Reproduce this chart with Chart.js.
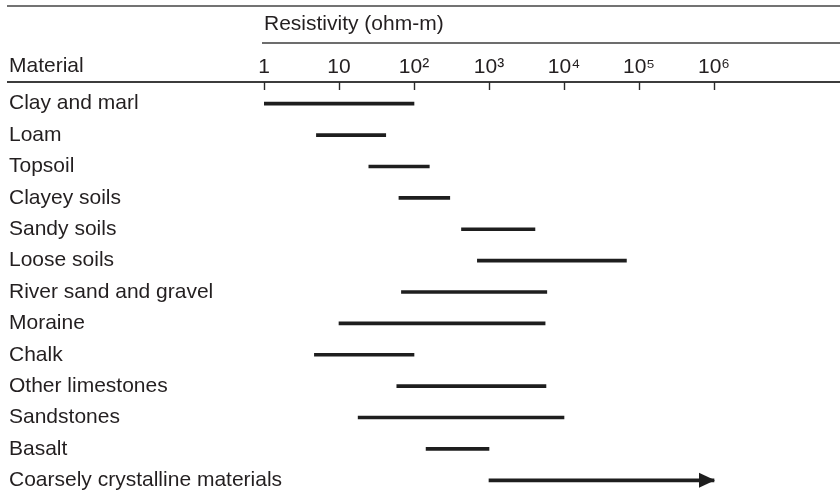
<!DOCTYPE html>
<html>
<head>
<meta charset="utf-8">
<script src="https://cdn.jsdelivr.net/npm/chart.js@4/dist/chart.umd.min.js"></script>
<style>
  html, body { margin: 0; padding: 0; background: #ffffff; }
  #wrap { position: relative; width: 840px; height: 500px; }
</style>
</head>
<body>
<div id="wrap"><canvas id="c"></canvas></div>
<script>
// ---- data ----
const materials = [
  'Clay and marl', 'Loam', 'Topsoil', 'Clayey soils', 'Sandy soils', 'Loose soils',
  'River sand and gravel', 'Moraine', 'Chalk', 'Other limestones', 'Sandstones',
  'Basalt', 'Coarsely crystalline materials'
];
const lowResistivity  = [1, 5, 25, 63, 430, 700, 68, 10, 4.7, 59, 18, 145, 1000];
const highResistivity = [100, 42, 160, 300, 4100, 68000, 5900, 5600, 100, 5750, 10000, 1000, 1000000];
const openEndedMaterials = ['Coarsely crystalline materials'];
const tickValues = [1, 10, 100, 1000, 10000, 100000, 1000000];
const tickLabels = ['1', '10', '10\u00B2', '10\u00B3', '10\u2074', '10\u2075', '10\u2076'];
const axisTitle = 'Resistivity (ohm-m)';
const headerLabel = 'Material';

const FONT = "'Liberation Sans', Arial, Helvetica, sans-serif";
const INK = '#231f20';
const FS = 21;
Chart.defaults.font.family = FONT;
Chart.defaults.color = INK;

const ranges = materials.map((m, i) => [lowResistivity[i], highResistivity[i]]);

const framePlugin = {
  id: 'frame',
  beforeDraw(chart) {
    const ctx = chart.ctx;
    const ca = chart.chartArea;
    const xs = chart.scales.x;
    const W = chart.width;
    ctx.save();
    // top rule
    ctx.strokeStyle = '#737373';
    ctx.lineWidth = 2.2;
    ctx.beginPath(); ctx.moveTo(7, 6); ctx.lineTo(W, 6); ctx.stroke();
    // rule under the axis title
    ctx.strokeStyle = '#3c3c3c';
    ctx.lineWidth = 1.6;
    ctx.beginPath(); ctx.moveTo(ca.left - 2, 43); ctx.lineTo(W, 43); ctx.stroke();
    // axis rule under tick labels
    const axisY = ca.top - 6;
    ctx.strokeStyle = '#3c3c3c';
    ctx.lineWidth = 1.8;
    ctx.beginPath(); ctx.moveTo(7, axisY); ctx.lineTo(W, axisY); ctx.stroke();
    // tick marks pointing down
    ctx.lineWidth = 1.4;
    ctx.strokeStyle = '#2a2a2a';
    xs.ticks.forEach(t => {
      const px = Math.round(xs.getPixelForValue(t.value)) + 0.5;
      ctx.beginPath(); ctx.moveTo(px, axisY); ctx.lineTo(px, axisY + 8); ctx.stroke();
    });
    // header "Material"
    ctx.fillStyle = INK;
    ctx.font = FS + 'px ' + FONT;
    ctx.textAlign = 'left';
    ctx.textBaseline = 'middle';
    ctx.fillText(headerLabel, 9, 66.5);
    ctx.restore();
  },
  afterDatasetsDraw(chart) {
    const ctx = chart.ctx;
    const meta = chart.getDatasetMeta(0);
    ctx.save();
    ctx.fillStyle = '#1e1e1e';
    materials.forEach((m, i) => {
      if (!openEndedMaterials.includes(m)) return;
      const el = meta.data[i];
      const tipX = el.x + 1;
      const y = el.y;
      ctx.beginPath();
      ctx.moveTo(tipX - 16, y - 7.5);
      ctx.lineTo(tipX, y);
      ctx.lineTo(tipX - 16, y + 7.5);
      ctx.closePath();
      ctx.fill();
    });
    ctx.restore();
  }
};

new Chart(document.getElementById('c'), {
  type: 'bar',
  data: {
    labels: materials,
    datasets: [{
      data: ranges,
      backgroundColor: '#1e1e1e',
      borderWidth: 0,
      barThickness: 3,
      borderSkipped: false
    }]
  },
  options: {
    indexAxis: 'y',
    responsive: true,
    maintainAspectRatio: false,
    animation: false,
    layout: { padding: { left: 9, right: 0, top: 0, bottom: 4 } },
    plugins: { legend: { display: false }, tooltip: { enabled: false } },
    scales: {
      x: {
        type: 'logarithmic',
        position: 'top',
        min: 1,
        max: 4.79e7,
        afterBuildTicks(scale) { scale.ticks = tickValues.map(v => ({ value: v })); },
        afterFit(scale) { scale.height = 88; },
        ticks: {
          autoSkip: false,
          maxRotation: 0,
          padding: 8,
          color: INK,
          font: { size: FS },
          callback: (v, i) => tickLabels[i]
        },
        grid: { display: false, drawTicks: false },
        border: { display: false },
        title: {
          display: true,
          text: axisTitle,
          align: 'start',
          color: INK,
          font: { size: FS },
          padding: { top: 12, bottom: 0 }
        }
      },
      y: {
        type: 'category',
        afterFit(scale) {
          scale.width = 255;
          scale.paddingTop = 0;
          scale.paddingBottom = 0;
        },
        ticks: {
          mirror: true,
          crossAlign: 'near',
          padding: -255,
          color: INK,
          font: { size: FS },
          autoSkip: false
        },
        grid: { display: false, drawTicks: false },
        border: { display: false }
      }
    }
  },
  plugins: [framePlugin]
});
</script>
</body>
</html>
